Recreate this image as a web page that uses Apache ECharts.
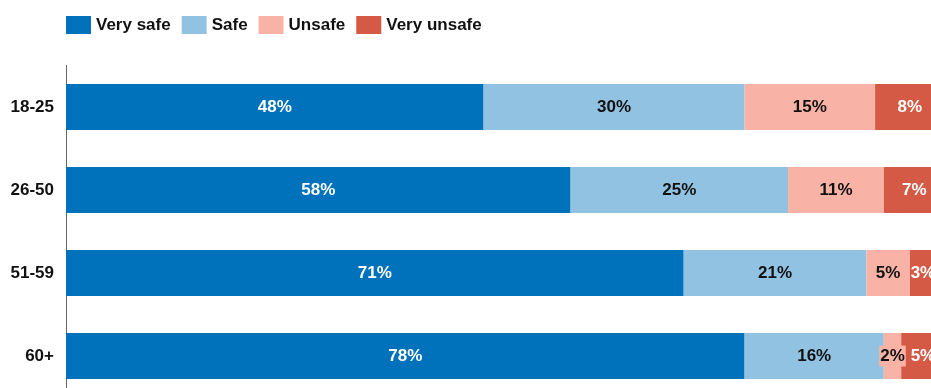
<!DOCTYPE html>
<html>
<head>
<meta charset="utf-8">
<script src="https://cdn.jsdelivr.net/npm/echarts@6/dist/echarts.min.js"></script>
<style>
  html, body { margin: 0; padding: 0; background: #fff; overflow: hidden; }
  #chart { width: 931px; height: 388px; }
</style>
</head>
<body>
<div id="chart"></div>
<script>
// Perceived safety by age group (percent of respondents)
const ageGroups = ['18-25', '26-50', '51-59', '60+'];
const verySafe = [48, 58, 71, 78];
const safe = [30, 25, 21, 16];
const unsafe = [15, 11, 5, 2];
const veryUnsafe = [8, 7, 3, 5];

const seriesNames = ['Very safe', 'Safe', 'Unsafe', 'Very unsafe'];
const seriesColors = ['#0071BB', '#92C2E1', '#F8B3A6', '#D45A45'];
const labelColors = ['#ffffff', '#111111', '#111111', '#ffffff'];
const seriesData = [verySafe, safe, unsafe, veryUnsafe];

const chart = echarts.init(document.getElementById('chart'), null, { renderer: 'canvas' });
const fontFamily = '"Liberation Sans", Arial, Helvetica, sans-serif';

chart.setOption({
  animation: false,
  textStyle: { fontFamily },
  legend: {
    left: 61,
    top: 11,
    itemWidth: 25,
    itemHeight: 18,
    itemGap: 11,
    icon: 'rect',
    textStyle: { fontSize: 17, fontWeight: 'bold', color: '#111', fontFamily },
    data: seriesNames
  },
  // plot area runs a little past the right and bottom edges of the canvas
  grid: {
    left: 66, top: 65.5, width: 870, height: 332,
    containLabel: false,
    outerBoundsMode: 'none'
  },
  xAxis: {
    type: 'value',
    min: 0,
    max: 100,
    show: false
  },
  yAxis: {
    type: 'category',
    data: ageGroups,
    inverse: true,
    axisTick: { show: false },
    axisLine: { show: true, lineStyle: { color: '#666', width: 1 } },
    axisLabel: { fontSize: 17, fontWeight: 'bold', color: '#111', margin: 12, fontFamily }
  },
  series: seriesData.map((vals, i) => ({
    name: seriesNames[i],
    type: 'bar',
    stack: 'total',
    barWidth: 46,
    clip: false,
    itemStyle: { color: seriesColors[i] },
    label: {
      show: true,
      position: 'inside',
      formatter: '{c}%',
      fontSize: 17,
      fontWeight: 'bold',
      color: labelColors[i],
      fontFamily,
      backgroundColor: i === 2 ? seriesColors[2] : 'transparent',
      padding: i === 2 ? [2, 1] : 0
    },
    data: vals
  }))
});
</script>
</body>
</html>
